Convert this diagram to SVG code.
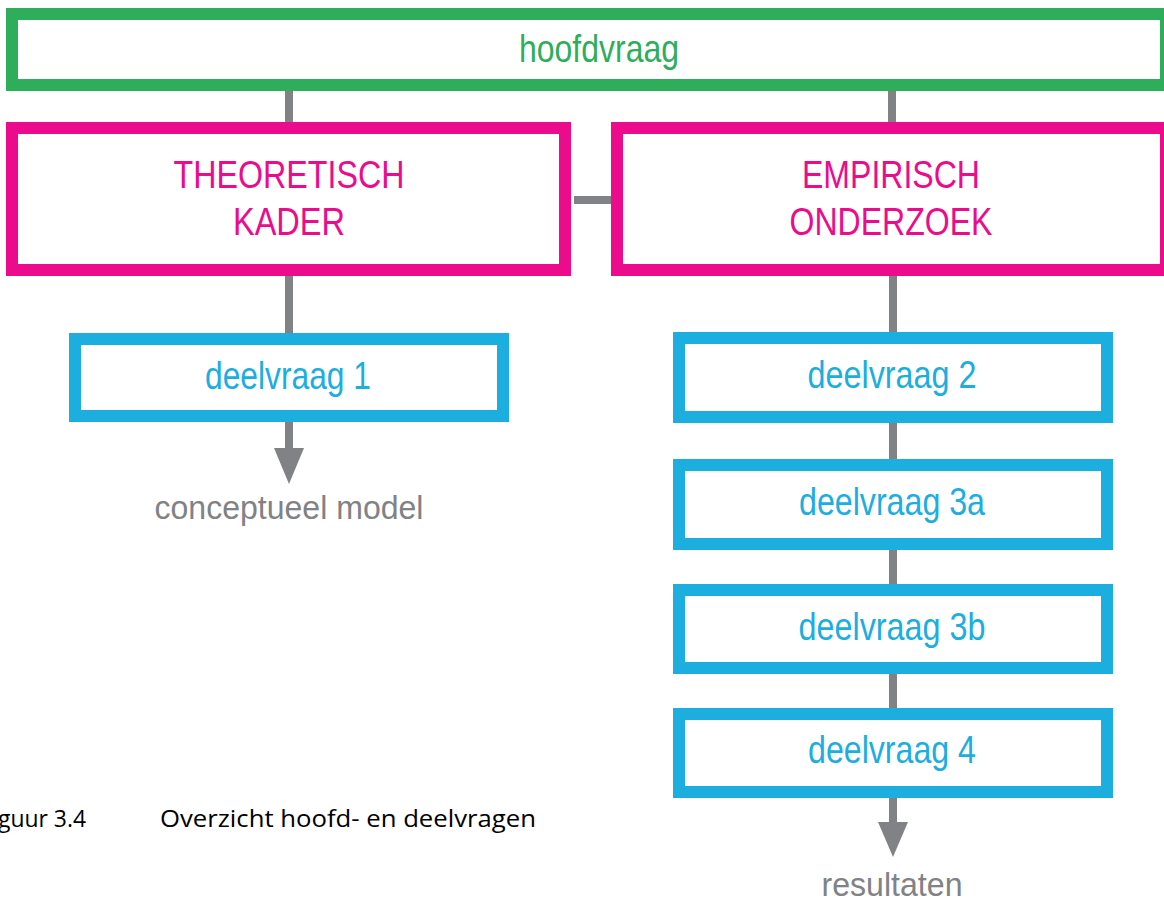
<svg xmlns="http://www.w3.org/2000/svg" width="1164" height="901" viewBox="0 0 1164 901">
<style>
.box{fill:#ffffff;stroke-width:12}
.g{stroke:#2EAE5A}
.p{stroke:#EC0B8C}
.b{stroke:#1CAEDF}
.t{font-family:"Liberation Sans",Arial,sans-serif;font-size:39px;text-anchor:middle}
.tg{fill:#2EAE5A}
.tp{fill:#EC0B8C}
.tb{fill:#1CAEDF}
.gray{fill:#808285;font-family:"Liberation Sans",Arial,sans-serif;font-size:34px;text-anchor:middle}
.cap{fill:#000000;font-family:"Open Sans","Noto Sans",sans-serif;font-size:24px}
.c{stroke:#808285;stroke-width:8;fill:none}
.ah{fill:#808285}
</style>
<rect width="1164" height="901" fill="#ffffff"/>
<g id="connectors">
<line class="c" x1="289" y1="90" x2="289" y2="123"/>
<line class="c" x1="892" y1="90" x2="892" y2="123"/>
<line class="c" x1="574" y1="200" x2="612" y2="200"/>
<line class="c" x1="289" y1="275" x2="289" y2="334"/>
<line class="c" x1="289" y1="421" x2="289" y2="450"/>
<polygon class="ah" points="274,448 304,448 289,484"/>
<line class="c" x1="893" y1="275" x2="893" y2="333"/>
<line class="c" x1="893" y1="422" x2="893" y2="460"/>
<line class="c" x1="893" y1="549" x2="893" y2="585"/>
<line class="c" x1="893" y1="673" x2="893" y2="709"/>
<line class="c" x1="893" y1="797" x2="893" y2="824"/>
<polygon class="ah" points="878,822 908,822 893,857"/>
</g>
<g id="hoofdvraag">
<rect class="box g" x="12" y="14" width="1154" height="71"/>
<text class="t tg" x="599" y="62" textLength="160" lengthAdjust="spacingAndGlyphs">hoofdvraag</text>
</g>
<g id="theoretisch-kader">
<rect class="box p" x="12" y="128" width="553" height="142"/>
<text class="t tp" x="289" y="188" textLength="231" lengthAdjust="spacingAndGlyphs">THEORETISCH</text>
<text class="t tp" x="289" y="235" textLength="112" lengthAdjust="spacingAndGlyphs">KADER</text>
</g>
<g id="empirisch-onderzoek">
<rect class="box p" x="617" y="128" width="549" height="142"/>
<text class="t tp" x="891" y="188" textLength="178" lengthAdjust="spacingAndGlyphs">EMPIRISCH</text>
<text class="t tp" x="891" y="235" textLength="203" lengthAdjust="spacingAndGlyphs">ONDERZOEK</text>
</g>
<g id="deelvraag1">
<rect class="box b" x="75" y="339" width="428" height="77"/>
<text class="t tb" x="288" y="389" textLength="166" lengthAdjust="spacingAndGlyphs">deelvraag 1</text>
</g>
<g id="deelvraag2">
<rect class="box b" x="679" y="338" width="428" height="79"/>
<text class="t tb" x="892" y="388" textLength="169" lengthAdjust="spacingAndGlyphs">deelvraag 2</text>
</g>
<g id="deelvraag3a">
<rect class="box b" x="679" y="465" width="428" height="79"/>
<text class="t tb" x="892" y="515" textLength="186" lengthAdjust="spacingAndGlyphs">deelvraag 3a</text>
</g>
<g id="deelvraag3b">
<rect class="box b" x="679" y="590" width="428" height="78"/>
<text class="t tb" x="892" y="640" textLength="187" lengthAdjust="spacingAndGlyphs">deelvraag 3b</text>
</g>
<g id="deelvraag4">
<rect class="box b" x="679" y="714" width="428" height="78"/>
<text class="t tb" x="892" y="763" textLength="168" lengthAdjust="spacingAndGlyphs">deelvraag 4</text>
</g>
<g id="conceptueel-model">
<text class="gray" x="289" y="519" textLength="269" lengthAdjust="spacingAndGlyphs">conceptueel model</text>
</g>
<g id="resultaten">
<text class="gray" x="892" y="896" textLength="141" lengthAdjust="spacingAndGlyphs">resultaten</text>
</g>
<g id="caption">
<text class="cap" x="-2" y="827" textLength="88" lengthAdjust="spacingAndGlyphs">guur 3.4</text>
<text class="cap" x="160" y="827" textLength="376" lengthAdjust="spacingAndGlyphs">Overzicht hoofd- en deelvragen</text>
</g>
</svg>
